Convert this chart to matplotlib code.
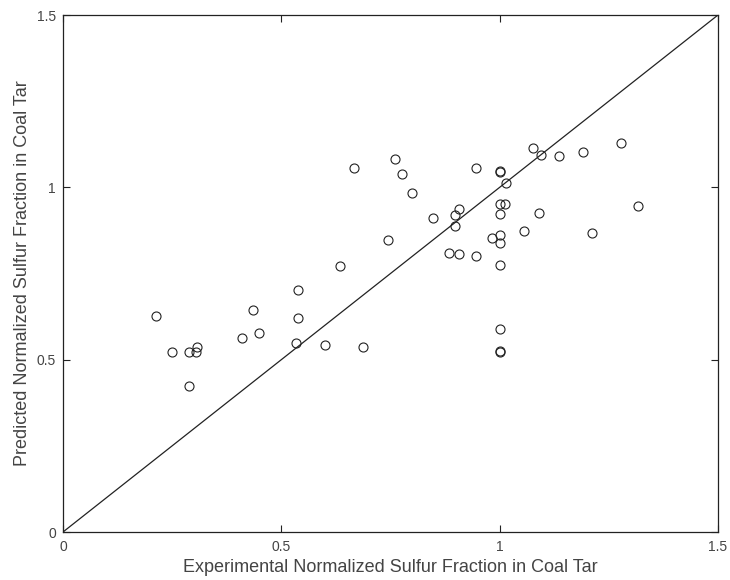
import numpy as np
import matplotlib
matplotlib.use('Agg')
import matplotlib.pyplot as plt

plt.rcParams['font.family'] = ['Liberation Sans', 'DejaVu Sans']

# experimental vs predicted normalized sulfur fraction
exp_frac = [0.213, 0.250, 0.288, 0.304, 0.307, 0.288, 0.410, 0.434, 0.448, 0.538,
            0.538, 0.534, 0.600, 0.634, 0.686, 0.666, 0.744, 0.761, 0.776, 0.800,
            0.847, 0.883, 0.908, 0.897, 0.907, 0.897, 0.945, 0.945, 0.982, 1.000,
            1.000, 1.000, 1.000, 1.000, 1.015, 1.000, 1.013, 1.000, 1.000, 1.000,
            1.000, 1.056, 1.076, 1.095, 1.090, 1.135, 1.191, 1.211, 1.278, 1.316]
pred_frac = [0.626, 0.521, 0.521, 0.521, 0.538, 0.424, 0.564, 0.643, 0.578, 0.701,
             0.621, 0.548, 0.543, 0.771, 0.538, 1.055, 0.846, 1.081, 1.038, 0.985,
             0.910, 0.810, 0.806, 0.919, 0.937, 0.887, 1.055, 0.801, 0.854, 0.863,
             0.839, 0.775, 1.044, 1.046, 1.012, 0.953, 0.953, 0.924, 0.590, 0.523,
             0.525, 0.873, 1.114, 1.095, 0.925, 1.091, 1.103, 0.867, 1.130, 0.945]
parity = [0, 1.5]
ticks = [0, 0.5, 1, 1.5]
tick_labels = ['0', '0.5', '1', '1.5']

fig = plt.figure(figsize=(7.3, 5.8), dpi=100)
ax = fig.add_axes([63/730, 48/580, 655/730, 517/580])

ax.plot(exp_frac, pred_frac, 'o', mfc='none', mec='#222222', ms=6.5, mew=0.8)
ax.plot(parity, parity, '-', color='#222222', lw=0.9)

ax.set_xlim(0, 1.5)
ax.set_ylim(0, 1.5)
ax.set_xticks(ticks)
ax.set_yticks(ticks)
ax.set_xticklabels(tick_labels)
ax.set_yticklabels(tick_labels)
ax.tick_params(direction='in', top=True, right=True, length=5, width=0.8,
               labelsize=10, colors='#222222', labelcolor='#444444')
ax.tick_params(axis='x', pad=6)
ax.tick_params(axis='y', pad=5)
for s in ax.spines.values():
    s.set_linewidth(0.9)
    s.set_color('#222222')

ax.set_xlabel('Experimental Normalized Sulfur Fraction in Coal Tar', fontsize=13, color='#444444', labelpad=3)
ax.set_ylabel('Predicted Normalized Sulfur Fraction in Coal Tar', fontsize=13, color='#444444', labelpad=4)

fig.savefig('out.png', dpi=100)
